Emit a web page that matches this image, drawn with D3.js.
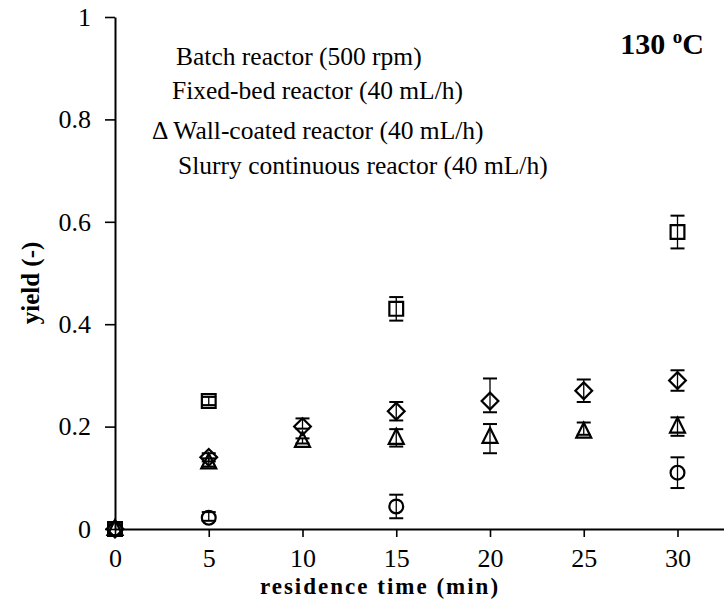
<!DOCTYPE html>
<html>
<head>
<meta charset="utf-8">
<script src="https://cdn.jsdelivr.net/npm/d3@7"></script>
<style>
  html, body { margin: 0; padding: 0; background: #fff; }
  svg { display: block; }
  text { font-family: "Liberation Serif", "Times New Roman", serif; fill: #000; }
</style>
</head>
<body>
<svg id="chart" width="724" height="600"></svg>
<script>
// Residence times (min)
const times = [0, 5, 10, 15, 20, 25, 30];

// Yield per reactor, null where no measurement was taken
const batchYield   = [0, 0.25, null, 0.43, null, null, 0.58];
const batchErrUp   = [0, 0.008, null, 0.023, null, null, 0.032];
const batchErrDown = [0, 0.008, null, 0.023, null, null, 0.032];

const fixedYield   = [0, 0.14, 0.20, 0.23, 0.25, 0.27, 0.29];
const fixedErrUp   = [0, 0.008, 0.016, 0.018, 0.044, 0.022, 0.02];
const fixedErrDown = [0, 0.008, 0.004, 0.018, 0.022, 0.022, 0.02];

const wallYield    = [0, 0.13, 0.172, 0.178, 0.18, 0.19, 0.20];
const wallErrUp    = [0, 0.008, 0.005, 0.017, 0.025, 0.018, 0.018];
const wallErrDown  = [0, 0.008, 0.005, 0.017, 0.032, 0.006, 0.018];

const slurryYield   = [0, 0.022, null, 0.044, null, null, 0.11];
const slurryErrUp   = [0, 0.011, null, 0.023, null, null, 0.03];
const slurryErrDown = [0, 0.006, null, 0.023, null, null, 0.03];

const xTicks = [0, 5, 10, 15, 20, 25, 30];
const yTicks = [0, 0.2, 0.4, 0.6, 0.8, 1];

const legendLabels = [
  "Batch reactor (500 rpm)",
  "Fixed-bed reactor (40 mL/h)",
  "\u0394 Wall-coated reactor (40 mL/h)",
  "Slurry continuous reactor (40 mL/h)"
];

const svg = d3.select("#chart");

const x = d3.scaleLinear().domain([0, 32.48]).range([115, 724]);
const y = d3.scaleLinear().domain([0, 1]).range([529, 17]);

// Axes
const xAxis = svg.append("g")
  .attr("transform", `translate(0,${y(0)})`)
  .call(d3.axisBottom(x).tickValues(xTicks).tickFormat(d3.format("d"))
    .tickSize(8).tickSizeOuter(0).tickPadding(12));
const yAxis = svg.append("g")
  .attr("transform", `translate(${x(0)},0)`)
  .call(d3.axisLeft(y).tickValues(yTicks).tickFormat(d => d === 0 || d === 1 ? d3.format("d")(d) : d3.format(".1f")(d))
    .tickSize(10).tickSizeOuter(0).tickPadding(14));

[xAxis, yAxis].forEach(g => {
  g.select(".domain").attr("stroke", "#000").attr("stroke-width", 2);
  g.selectAll(".tick line").attr("stroke", "#000").attr("stroke-width", 1.6);
  g.selectAll(".tick text")
    .style("font-family", "'Liberation Serif', serif")
    .style("font-size", "26px")
    .attr("fill", "#000");
});

// Axis titles
svg.append("text")
  .attr("x", 380).attr("y", 594)
  .attr("text-anchor", "middle")
  .style("font-size", "23px").style("font-weight", "bold")
  .style("letter-spacing", "2px")
  .text("residence time (min)");

svg.append("text")
  .attr("transform", `translate(39,${283}) rotate(-90)`)
  .attr("text-anchor", "middle")
  .style("font-size", "25px").style("font-weight", "bold")
  .text("yield (-)");

// Marker shapes
const squarePath = d3.symbol().type(d3.symbolSquare).size(190)();
const diamondPath = d3.symbol().type(d3.symbolSquare).size(140)();
const circlePath = d3.symbol().type(d3.symbolCircle).size(150)();
const trianglePath = "M0,-9L7.5,6L-7.5,6Z";

const series = [
  { vals: batchYield,  up: batchErrUp,  down: batchErrDown,  path: squarePath,   rot: 0 },
  { vals: fixedYield,  up: fixedErrUp,  down: fixedErrDown,  path: diamondPath,  rot: 45 },
  { vals: wallYield,   up: wallErrUp,   down: wallErrDown,   path: trianglePath, rot: 0 },
  { vals: slurryYield, up: slurryErrUp, down: slurryErrDown, path: circlePath,   rot: 0 }
];

const capHalf = 7;
series.forEach(s => {
  const pts = times.map((t, i) => ({ t, v: s.vals[i], up: s.up[i], down: s.down[i] }))
    .filter(p => p.v !== null);
  const g = svg.append("g");

  // Error bars
  const eb = g.selectAll("g.err").data(pts.filter(p => p.up > 0 || p.down > 0)).join("g");
  eb.append("line")
    .attr("x1", d => x(d.t)).attr("x2", d => x(d.t))
    .attr("y1", d => y(d.v + d.up)).attr("y2", d => y(d.v - d.down))
    .attr("stroke", "#000").attr("stroke-width", 1.3);
  eb.append("line")
    .attr("x1", d => x(d.t) - capHalf).attr("x2", d => x(d.t) + capHalf)
    .attr("y1", d => y(d.v + d.up)).attr("y2", d => y(d.v + d.up))
    .attr("stroke", "#000").attr("stroke-width", 2);
  eb.append("line")
    .attr("x1", d => x(d.t) - capHalf).attr("x2", d => x(d.t) + capHalf)
    .attr("y1", d => y(d.v - d.down)).attr("y2", d => y(d.v - d.down))
    .attr("stroke", "#000").attr("stroke-width", 2);

  // Markers
  g.selectAll("path.mk").data(pts).join("path")
    .attr("d", s.path)
    .attr("transform", d => `translate(${x(d.t)},${y(d.v)}) rotate(${s.rot})`)
    .attr("fill", "none")
    .attr("stroke", "#000")
    .attr("stroke-width", 2.2);
});

// Legend text
const legendPos = [[176, 65], [172, 99], [152, 139], [178, 174]];
svg.append("g").selectAll("text").data(legendLabels).join("text")
  .attr("x", (d, i) => legendPos[i][0])
  .attr("y", (d, i) => legendPos[i][1])
  .style("font-size", "25.5px")
  .text(d => d);

// Temperature label
const temp = svg.append("text")
  .attr("x", 704).attr("y", 54)
  .attr("text-anchor", "end")
  .style("font-size", "30px").style("font-weight", "bold");
temp.append("tspan").text("130 ");
temp.append("tspan").attr("dy", -11).style("font-size", "19px").text("o");
temp.append("tspan").attr("dy", 11).text("C");
</script>
</body>
</html>
